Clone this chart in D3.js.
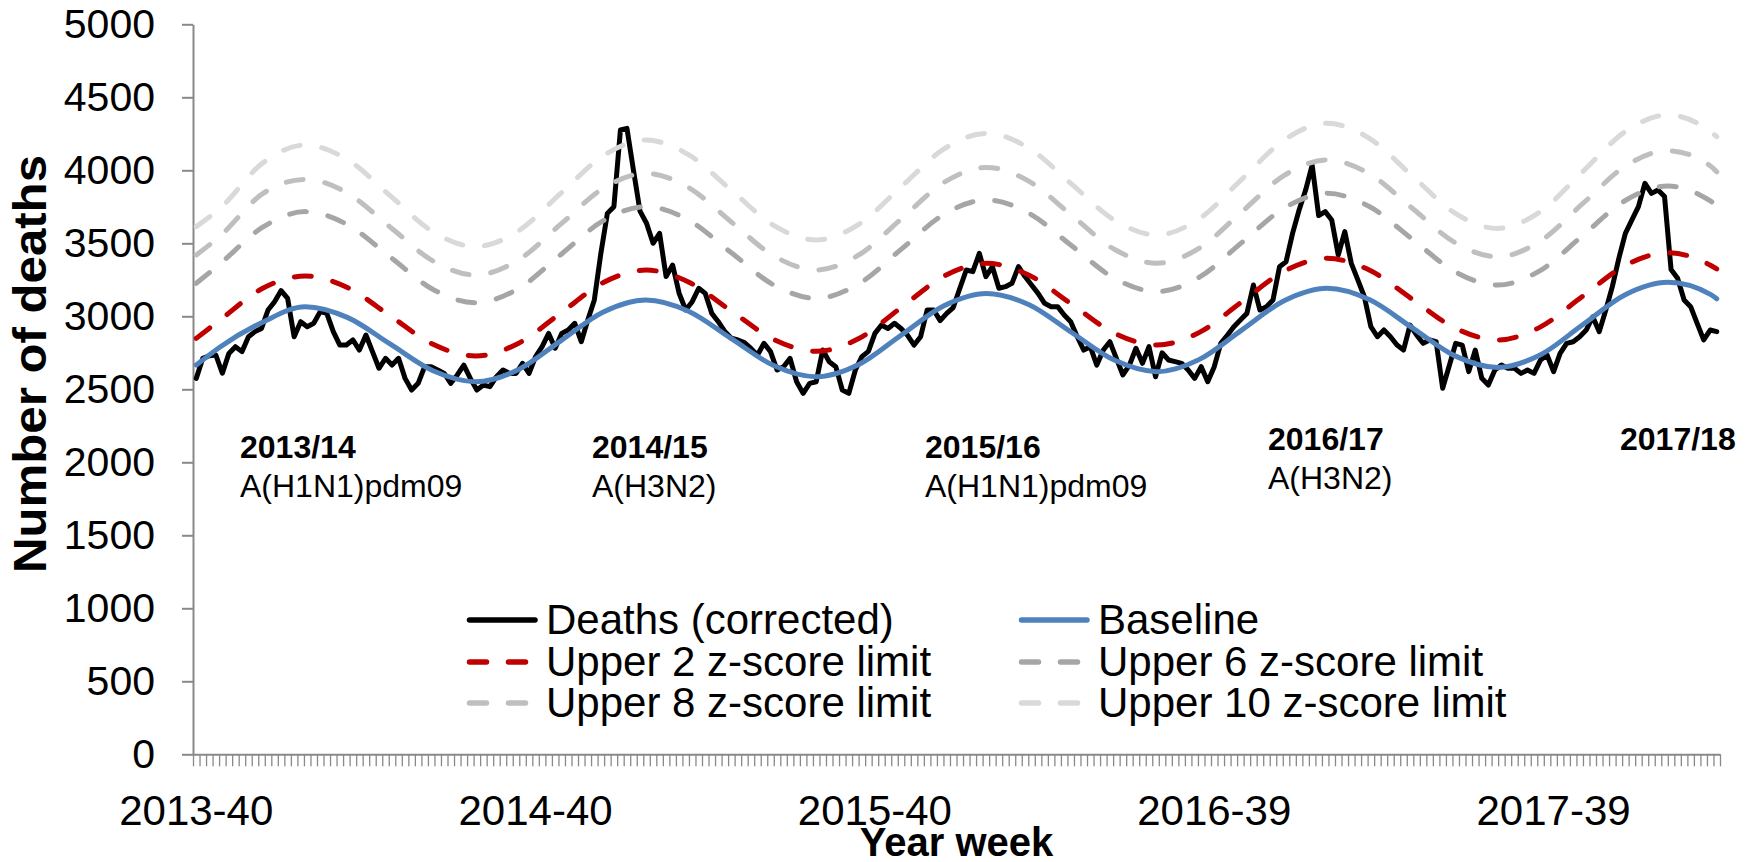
<!DOCTYPE html>
<html><head><meta charset="utf-8">
<script src="https://cdn.jsdelivr.net/npm/d3@7"></script>
<style>
body{margin:0;background:#fff}
svg{display:block}
text{font-family:"Liberation Sans",Arial,Helvetica,sans-serif;fill:#000}
</style>
</head><body>
<svg id="chart" width="1752" height="862"></svg>
<script>
// ---------- DATA ----------
const nWeeks = 234; // 2013-40 ... 2018-12
const xLabels = ["2013-40", "2014-40", "2015-40", "2016-39", "2017-39"];
const xLabelWeeks = [0, 52, 104, 156, 208];
const yTicks = [0, 500, 1000, 1500, 2000, 2500, 3000, 3500, 4000, 4500, 5000];

const deaths = [
2575,2712,2730,2735,2610,2746,2792,2758,2860,2895,2917,3043,3100,3176,3123,2860,2963,2929,2952,3032,
3020,2895,2803,2803,2838,2769,2872,2758,2644,2712,2666,2712,2575,2495,2541,2655,2655,2632,2609,2541,
2598,2666,2575,2495,2529,2518,2586,2632,2609,2609,2678,2609,2724,2792,2883,2781,2883,2906,2952,2826,
2975,3112,3431,3705,3751,4276,4287,4000,3720,3637,3500,3568,3272,3351,3157,3043,3100,3192,3157,3020,
2963,2895,2850,2838,2820,2780,2735,2815,2758,2632,2655,2712,2552,2472,2541,2552,2769,2689,2655,2495,
2472,2632,2724,2760,2883,2940,2917,2952,2917,2870,2803,2860,3043,3043,2970,3020,3060,3190,3317,3306,
3431,3272,3340,3192,3203,3226,3340,3272,3214,3157,3089,3066,3066,3009,2963,2860,2769,2792,2666,2769,
2826,2712,2598,2666,2781,2678,2792,2586,2750,2701,2690,2678,2632,2575,2655,2552,2655,2815,2870,2929,
2975,3020,3214,3043,3066,3112,3340,3374,3568,3728,3865,4036,3690,3717,3660,3420,3580,3363,3249,3134,
2929,2860,2906,2860,2803,2769,2940,2872,2815,2838,2826,2507,2660,2815,2803,2621,2769,2575,2529,2632,
2666,2644,2644,2609,2632,2609,2701,2735,2621,2746,2815,2826,2860,2906,2997,2895,3043,3203,3397,3568,
3660,3751,3911,3842,3865,3820,3320,3260,3112,3066,2952,2838,2906,2895
];

// week positions (index from 2013-40) at which the smooth curves were read
const limitWeeks = [0,3.65,10.18,16.7,23.23,29.75,36.28,42.8,49.33,55.85,62.38,68.9,75.43,81.95,88.48,95,
101.53,108.05,114.58,121.1,127.63,134.15,140.68,147.2,153.73,160.25,166.78,173.3,179.83,186.35,192.88,
199.4,205.93,212.45,218.98,225.5,232.03,233];
const baseline = [2666,2790,2960,3066,2991,2809,2627,2552,2634,2832,3030,3112,3035,2849,2663,2586,2670,2872,
3073,3157,3079,2889,2700,2621,2705,2907,3108,3192,3113,2921,2729,2650,2735,2942,3148,3233,3150,3120];
const upper2 = [2849,2975,3192,3276,3196,3002,2808,2728,2814,3022,3231,3317,3235,3038,2842,2760,2848,3061,
3275,3363,3281,3083,2885,2803,2890,3100,3310,3397,3315,3117,2920,2838,2926,3137,3348,3436,3350,3325];
const upper6 = [3226,3360,3610,3717,3626,3405,3184,3093,3189,3422,3655,3751,3659,3437,3215,3123,3222,3460,
3698,3797,3705,3483,3261,3169,3268,3506,3743,3842,3750,3528,3306,3214,3313,3553,3793,3892,3790,3760];
const upper8 = [3420,3550,3840,3938,3842,3610,3379,3283,3385,3631,3877,3979,3882,3648,3414,3317,3420,3668,
3917,4020,3924,3692,3459,3363,3467,3717,3967,4071,3974,3740,3505,3408,3514,3771,4028,4134,4030,3990];
const upper10 = [3614,3740,4050,4173,4071,3825,3579,3477,3584,3842,4100,4207,4107,3865,3623,3523,3630,3888,
4146,4253,4151,3905,3659,3557,3669,3940,4210,4322,4217,3962,3707,3602,3716,3990,4265,4379,4265,4230];

const seasons = ["2013/14", "2014/15", "2015/16", "2016/17", "2017/18"];
const seasonTypes = ["A(H1N1)pdm09", "A(H3N2)", "A(H1N1)pdm09", "A(H3N2)", ""];

const seriesNames = ["Deaths (corrected)", "Baseline", "Upper 2 z-score limit",
  "Upper 6 z-score limit", "Upper 8 z-score limit", "Upper 10 z-score limit"];

// ---------- LAYOUT / STYLE ----------
const W = 1752, H = 862;
const plot = {left: 193, right: 1720, top: 24.3, bottom: 754.3};
const axisColor = "#898989";
const styles = [
  {color: "#000000", dash: null},
  {color: "#4F81BD", dash: null},
  {color: "#C00000", dash: "17,22"},
  {color: "#A6A6A6", dash: "17,22"},
  {color: "#BFBFBF", dash: "17,22"},
  {color: "#D9D9D9", dash: "17,22"}
];
const lineW = 5;

const svg = d3.select("#chart");
svg.append("rect").attr("width", W).attr("height", H).attr("fill", "#fff");

const x = d3.scaleLinear().domain([-0.5, nWeeks - 0.5]).range([plot.left, plot.right]);
const y = d3.scaleLinear().domain([0, 5000]).range([plot.bottom, plot.top]);

// ---------- AXES ----------
const yAxis = svg.append("g").attr("transform", `translate(${plot.left},0)`)
  .call(d3.axisLeft(y).tickValues(yTicks).tickFormat(d3.format("d"))
    .tickSize(11).tickSizeOuter(0).tickPadding(27));
yAxis.select(".domain").attr("stroke", axisColor).attr("stroke-width", 2);
yAxis.selectAll(".tick line").attr("stroke", axisColor).attr("stroke-width", 2);
yAxis.selectAll(".tick text").attr("font-size", 41)
  .attr("font-family", '"Liberation Sans",Arial,sans-serif').attr("fill", "#000");

const xAxis = svg.append("g").attr("transform", `translate(0,${plot.bottom})`)
  .call(d3.axisBottom(x).tickValues(d3.range(-0.5, nWeeks, 1)).tickSize(12).tickSizeOuter(0).tickFormat(""));
xAxis.select(".domain").attr("stroke", axisColor).attr("stroke-width", 2);
xAxis.selectAll(".tick line").attr("stroke", axisColor).attr("stroke-width", 1.3);

svg.append("g").selectAll("text").data(xLabels).join("text")
  .attr("x", (d, i) => x(xLabelWeeks[i]))
  .attr("y", 825)
  .attr("text-anchor", "middle")
  .attr("font-size", 42)
  .text(d => d);

svg.append("text").attr("x", (plot.left + plot.right) / 2).attr("y", 856)
  .attr("text-anchor", "middle").attr("font-size", 40).attr("font-weight", "bold")
  .text("Year week");

svg.append("text").attr("transform", "translate(46,364) rotate(-90)")
  .attr("text-anchor", "middle").attr("font-size", 46).attr("font-weight", "bold")
  .attr("textLength", 418).attr("lengthAdjust", "spacingAndGlyphs")
  .text("Number of deaths");

// ---------- SERIES ----------
const lineDeaths = d3.line().x((d, i) => x(i)).y(d => y(d));
const lineSmooth = d3.line().x(d => x(d[0])).y(d => y(d[1])).curve(d3.curveMonotoneX);

const gLines = svg.append("g");
gLines.append("path").datum(deaths)
  .attr("d", lineDeaths).attr("fill", "none")
  .attr("stroke", styles[0].color).attr("stroke-width", lineW)
  .attr("stroke-linejoin", "round").attr("stroke-linecap", "round");

const smoothSeries = [baseline, upper2, upper6, upper8, upper10];
smoothSeries.forEach((vals, k) => {
  const st = styles[k + 1];
  const pts = limitWeeks.map((w, i) => [w, vals[i]]);
  gLines.append("path").datum(pts)
    .attr("d", lineSmooth).attr("fill", "none")
    .attr("stroke", st.color).attr("stroke-width", lineW)
    .attr("stroke-linecap", "round").attr("stroke-linejoin", "round")
    .attr("stroke-dasharray", st.dash);
});

// ---------- SEASON ANNOTATIONS ----------
const annX = [240, 592, 925, 1268, 1620];
const annBoldY = [458, 458, 458, 450, 450];
const annTypeY = [497, 497, 497, 489, 489];
seasons.forEach((s, i) => {
  svg.append("text").attr("x", annX[i]).attr("y", annBoldY[i])
    .attr("font-size", 32).attr("font-weight", "bold").text(s);
  if (seasonTypes[i]) {
    svg.append("text").attr("x", annX[i]).attr("y", annTypeY[i])
      .attr("font-size", 32).text(seasonTypes[i]);
  }
});

// ---------- LEGEND ----------
const legCols = [467, 1019];
const legRows = [620, 662, 703];
const leg = svg.append("g");
seriesNames.forEach((name, i) => {
  const cx = legCols[i % 2], cy = legRows[Math.floor(i / 2)];
  const st = styles[i];
  leg.append("line").attr("x1", cx + 2.5).attr("x2", cx + 68).attr("y1", cy).attr("y2", cy)
    .attr("stroke", st.color).attr("stroke-width", lineW + 0.5)
    .attr("stroke-linecap", "round").attr("stroke-dasharray", st.dash);
  leg.append("text").attr("x", cx + 79).attr("y", cy + 14)
    .attr("font-size", 42).text(name);
});
</script>
</body></html>
